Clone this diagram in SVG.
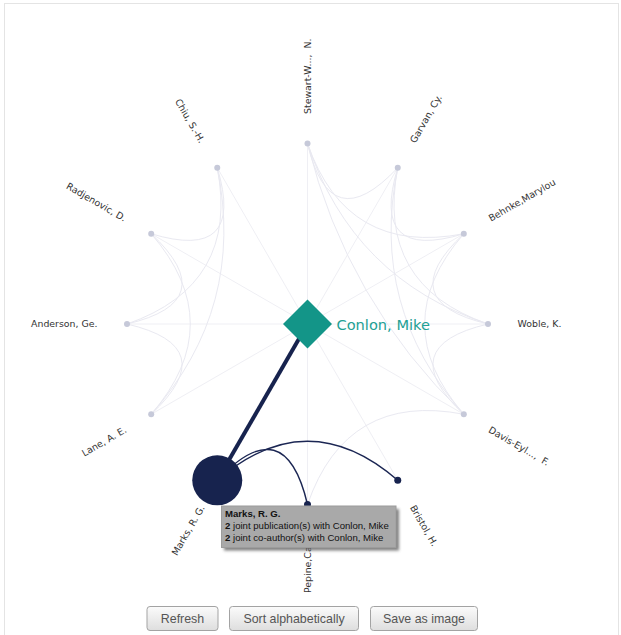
<svg xmlns="http://www.w3.org/2000/svg" width="621" height="635" viewBox="0 0 621 635">
<defs>
<style>
.lbl{font-family:"DejaVu Sans",Verdana,sans-serif;font-size:9.4px;fill:#333}
.faint{fill:none;stroke:#e9e9f1;stroke-width:1}
.spoke{fill:none;stroke:#efeff4;stroke-width:1}
.dark{fill:none;stroke:#1b2653;stroke-width:1.4}
.dot{fill:#c6c9d9}
.ddot{fill:#17234e}
.tt{font-family:"Liberation Sans",Arial,sans-serif;font-size:9.6px;fill:#111}
.btn{fill:url(#bg);stroke:#a3a3a3;stroke-width:1}
.btxt{font-family:"Liberation Sans",Arial,sans-serif;font-size:12.4px;fill:#555;text-anchor:middle}
</style>
<linearGradient id="bg" x1="0" y1="0" x2="0" y2="1">
<stop offset="0" stop-color="#fbfbfb"/>
<stop offset="1" stop-color="#dedede"/>
</linearGradient>
<filter id="sh" x="-10%" y="-20%" width="130%" height="160%">
<feGaussianBlur stdDeviation="1.6"/>
</filter>
</defs>
<rect x="0" y="0" width="621" height="635" fill="#fff"/>
<rect x="4.5" y="3.5" width="614" height="700" fill="none" stroke="#e4e4e4" stroke-width="1"/>

<g id="connectors">
<g id="spokes">
<line class="spoke" x1="307.5" y1="324" x2="307.5" y2="143.5"/>
<line class="spoke" x1="307.5" y1="324" x2="397.75" y2="167.7"/>
<line class="spoke" x1="307.5" y1="324" x2="463.8" y2="233.75"/>
<line class="spoke" x1="307.5" y1="324" x2="488" y2="324"/>
<line class="spoke" x1="307.5" y1="324" x2="463.8" y2="414.25"/>
<line class="spoke" x1="307.5" y1="324" x2="397.75" y2="480.3"/>
<line class="spoke" x1="307.5" y1="324" x2="307.5" y2="504.5"/>
<line class="spoke" x1="307.5" y1="324" x2="151.2" y2="414.25"/>
<line class="spoke" x1="307.5" y1="324" x2="127" y2="324"/>
<line class="spoke" x1="307.5" y1="324" x2="151.2" y2="233.75"/>
<line class="spoke" x1="307.5" y1="324" x2="217.25" y2="167.7"/>
</g>
<g id="coauthor-links">
<path class="faint" d="M307.5,143.5Q330.1,239.8 397.75,167.7"/>
<path class="faint" d="M307.5,143.5Q346.6,256.3 463.8,233.75"/>
<path class="faint" d="M307.5,143.5Q352.6,278.9 488,324"/>
<path class="faint" d="M307.5,143.5Q346.6,301.4 463.8,414.25"/>
<path class="faint" d="M397.75,167.7Q369.1,262.4 463.8,233.75"/>
<path class="faint" d="M397.75,167.7Q375.2,284.9 488,324"/>
<path class="faint" d="M397.75,167.7Q369.1,307.5 463.8,414.25"/>
<path class="faint" d="M463.8,233.75Q391.7,301.4 488,324"/>
<path class="faint" d="M463.8,233.75Q385.65,324 463.8,414.25"/>
<path class="faint" d="M488,324Q391.7,346.6 463.8,414.25"/>
<path class="faint" d="M307.5,504.5Q346.6,391.7 463.8,414.25"/>
<path class="faint" d="M217.25,167.7Q245.9,262.4 151.2,233.75"/>
<path class="faint" d="M217.25,167.7Q239.8,284.9 127,324"/>
<path class="faint" d="M217.25,167.7Q245.9,307.5 151.2,414.25"/>
<path class="faint" d="M151.2,233.75Q223.3,301.4 127,324"/>
<path class="faint" d="M151.2,233.75Q229.35,324 151.2,414.25"/>
<path class="faint" d="M127,324Q223.3,346.6 151.2,414.25"/>
</g>
<g id="highlight-links">
<path class="dark" d="M217.25,480.3Q307.5,402.15 397.75,480.3"/>
<path class="dark" d="M217.25,480.3Q284.9,408.2 307.5,504.5"/>
<line x1="307.5" y1="324" x2="217.25" y2="480.3" stroke="#17234e" stroke-width="4"/>
</g>
</g>

<g id="node-stewart"><circle class="dot" cx="307.5" cy="143.5" r="3"/><text class="lbl" x="307.5" y="114" dy="0.35em" transform="rotate(-90 307.5 114)" xml:space="preserve">Stewart-W...,  N.</text></g>
<g id="node-garvan"><circle class="dot" cx="397.75" cy="167.7" r="3"/><text class="lbl" x="412.5" y="142.1" dy="0.35em" transform="rotate(-60 412.5 142.1)">Garvan, Cy.</text></g>
<g id="node-behnke"><circle class="dot" cx="463.8" cy="233.75" r="3"/><text class="lbl" x="489.4" y="219" dy="0.35em" transform="rotate(-30 489.4 219)">Behnke,Marylou</text></g>
<g id="node-woble"><circle class="dot" cx="488" cy="324" r="3"/><text class="lbl" x="517.5" y="324" dy="0.35em">Woble, K.</text></g>
<g id="node-davis"><circle class="dot" cx="463.8" cy="414.25" r="3"/><text class="lbl" x="489.4" y="429" dy="0.35em" transform="rotate(30 489.4 429)" xml:space="preserve">Davis-Eyl...,  F.</text></g>
<g id="node-bristol"><circle class="ddot" cx="397.75" cy="480.3" r="3.5"/><text class="lbl" x="412.5" y="505.9" dy="0.35em" transform="rotate(60 412.5 505.9)">Bristol, H.</text></g>
<g id="node-pepine"><circle class="ddot" cx="307.5" cy="504.5" r="3.5"/><text class="lbl" x="307.5" y="593" dy="0.35em" transform="rotate(-90 307.5 593)">Pepine,Ca</text></g>
<g id="node-marks"><circle cx="217.25" cy="480.3" r="25" fill="#17234e"/><text class="lbl" x="202.25" y="505.9" dy="0.35em" text-anchor="end" transform="rotate(-60 202.25 505.9)">Marks, R. G.</text></g>
<g id="node-lane"><circle class="dot" cx="151.2" cy="414.25" r="3"/><text class="lbl" x="125.6" y="429" dy="0.35em" text-anchor="end" transform="rotate(-30 125.6 429)">Lane, A. E.</text></g>
<g id="node-anderson"><circle class="dot" cx="127" cy="324" r="3"/><text class="lbl" x="97.5" y="324" dy="0.35em" text-anchor="end">Anderson, Ge.</text></g>
<g id="node-radjenovic"><circle class="dot" cx="151.2" cy="233.75" r="3"/><text class="lbl" x="125.6" y="219" dy="0.35em" text-anchor="end" transform="rotate(30 125.6 219)">Radjenovic, D.</text></g>
<g id="node-chiu"><circle class="dot" cx="217.25" cy="167.7" r="3"/><text class="lbl" x="202.25" y="142.1" dy="0.35em" text-anchor="end" transform="rotate(60 202.25 142.1)">Chiu, S.-H.</text></g>

<g id="node-conlon">
<polygon points="307.5,299.5 332,324 307.5,348.5 283,324" fill="#139588"/>
<text x="336.5" y="330" font-family="DejaVu Sans,Verdana,sans-serif" font-size="14.6" fill="#22a094">Conlon, Mike</text>
</g>

<g id="tooltip">
<rect x="224" y="509" width="175" height="41.5" fill="#555" opacity="0.75" filter="url(#sh)"/>
<rect x="221.5" y="506" width="174.5" height="41.5" fill="#a9a9a9" stroke="#9c9c9c" stroke-width="1"/>
<text class="tt" x="225" y="516.5" font-weight="bold">Marks, R. G.</text>
<text class="tt" x="225" y="529"><tspan font-weight="bold">2</tspan> joint publication(s) with Conlon, Mike</text>
<text class="tt" x="225" y="541.3"><tspan font-weight="bold">2</tspan> joint co-author(s) with Conlon, Mike</text>
</g>

<g id="buttons">
<g id="btn-refresh"><rect class="btn" x="147" y="606.5" width="71" height="24" rx="3"/><text class="btxt" x="182.5" y="622.5">Refresh</text></g>
<g id="btn-sort"><rect class="btn" x="229.5" y="606.5" width="129" height="24" rx="3"/><text class="btxt" x="294" y="622.5">Sort alphabetically</text></g>
<g id="btn-save"><rect class="btn" x="370.5" y="606.5" width="107" height="24" rx="3"/><text class="btxt" x="424" y="622.5">Save as image</text></g>
</g>
</svg>
